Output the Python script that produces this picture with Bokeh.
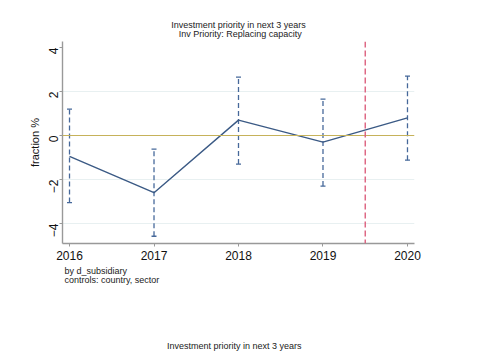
import math
from bokeh.plotting import figure
from bokeh.layouts import column
from bokeh.models import Range1d, FixedTicker, Title, Span, Label
from bokeh.embed import file_html
from bokeh.resources import INLINE

# ---- data ----
years = [2016, 2017, 2018, 2019, 2020]
coef = [-0.95, -2.6, 0.7, -0.3, 0.8]
ci_low = [-3.05, -4.58, -1.3, -2.3, -1.12]
ci_high = [1.2, -0.62, 2.65, 1.65, 2.7]
y_ticks = [-4, -2, 0, 2, 4]
x_ticks = [2016, 2017, 2018, 2019, 2020]
event_year = 2019.5

title1 = "Investment priority in next 3 years"
title2 = "Inv Priority: Replacing capacity"
note1 = "by d_subsidiary"
note2 = "controls: country, sector"
next_title1 = "Investment priority in next 3 years"
next_title2 = "Inv Priority: Developing or introducing new products, proc, serv"

FONT = "Liberation Sans"

W, H1, H2 = 488, 311, 42
p = figure(width=W, height=H1, output_backend="svg", toolbar_location=None,
           x_range=Range1d(2015.917, 2020.083), y_range=Range1d(-4.909, 4.273))
p.min_border_left = 62
p.min_border_right = W - 414
p.min_border_top = 41
p.min_border_bottom = H1 - 243
p.outline_line_color = None
p.background_fill_color = "white"
p.border_fill_color = "white"

# axes
for ax in (p.xaxis[0], p.yaxis[0]):
    ax.axis_line_color = "#999999"
    ax.axis_line_width = 1.4
    ax.major_tick_line_color = "#999999"
    ax.major_tick_in = 0
    ax.major_tick_out = 3
    ax.minor_tick_line_color = None
    ax.major_label_text_font = FONT
    ax.major_label_text_font_size = "12px"
    ax.major_label_text_color = "#111111"
p.xaxis.ticker = FixedTicker(ticks=x_ticks)
p.xaxis.major_label_standoff = 4
p.yaxis.ticker = FixedTicker(ticks=y_ticks)
p.yaxis.major_label_orientation = math.pi / 2
p.yaxis.major_label_standoff = 6
p.yaxis.axis_label = "fraction %"
p.yaxis.axis_label_text_font = FONT
p.yaxis.axis_label_text_font_style = "normal"
p.yaxis.axis_label_text_font_size = "11px"
p.yaxis.axis_label_text_color = "#111111"
p.yaxis.axis_label_standoff = 1

p.xgrid.grid_line_color = None
p.ygrid.ticker = FixedTicker(ticks=[-4, -2, 2])
p.ygrid.grid_line_color = "#e8f0f1"
p.ygrid.grid_line_width = 1

# zero line & event line
p.add_layout(Span(location=0, dimension="width", line_color="#c6b25a", line_width=1.2))
p.add_layout(Span(location=event_year, dimension="height", line_color="#dc5f7d",
                  line_width=1.4, line_dash="6 3"))

# error bars
p.segment(x0=years, y0=ci_low, x1=years, y1=ci_high, line_color="#46689a",
          line_width=1.3, line_dash="5 3")
p.scatter(x=years, y=ci_low, marker="dash", size=5, line_color="#46689a", line_width=1.3)
p.scatter(x=years, y=ci_high, marker="dash", size=5, line_color="#46689a", line_width=1.3)

# point estimate line
p.line(years, coef, line_color="#3b5a85", line_width=1.4)

# titles and notes
def style(t, size="9px", lh=1.0):
    t.text_font = FONT
    t.text_font_size = size
    t.text_font_style = "normal"
    t.text_color = "#222222"
    t.text_line_height = lh
    return t

NB = "\u00a0"
p.title.text = title1 + "\n" + NB * 3 + title2
p.title.align = "center"
p.title.standoff = 6
style(p.title, lh=0.9)

p.add_layout(style(Title(text=note1 + "\n" + note2, align="left", offset=2, standoff=2),
                   lh=0.9), "below")

# lower (next) panel, only its title is visible
p2 = figure(width=W, height=H2, output_backend="svg", toolbar_location=None,
            x_range=Range1d(0, W), y_range=Range1d(H2, 0),
            x_axis_location=None, y_axis_location=None)
p2.min_border_left = p2.min_border_right = 0
p2.min_border_top = p2.min_border_bottom = 0
p2.outline_line_color = None
p2.xgrid.grid_line_color = None
p2.ygrid.grid_line_color = None
p2.add_layout(Label(x=238, y=H2 - 8, text=next_title1, text_font=FONT,
                    text_font_size="9px", text_align="center", text_baseline="middle",
                    text_color="#222222"))
p2.add_layout(Label(x=242, y=H2 - 1, text=next_title2, text_font=FONT,
                    text_font_size="9px", text_align="center", text_baseline="top",
                    text_color="#222222"))

layout = column(p, p2, spacing=0)
open("out.html", "w").write(file_html(layout, INLINE))
